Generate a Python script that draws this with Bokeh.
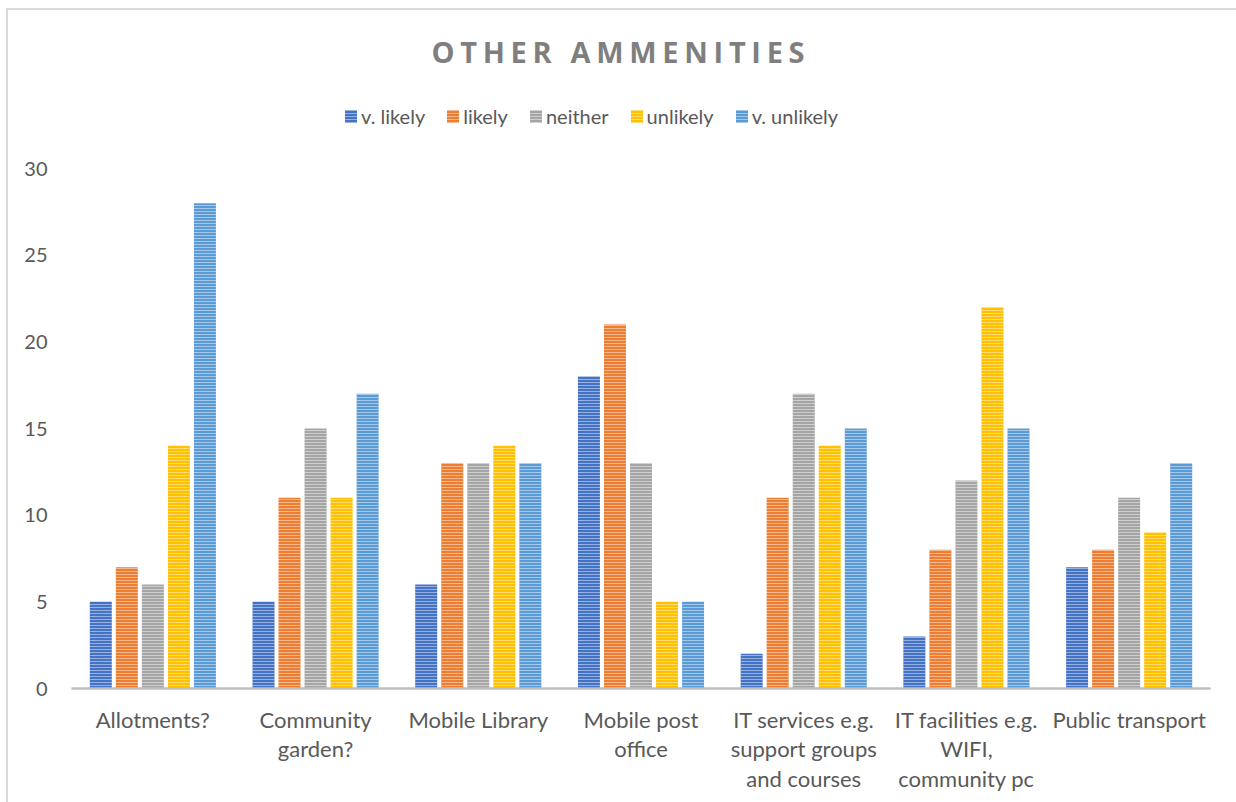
from bokeh.plotting import figure
from bokeh.layouts import column
from bokeh.models import (ColumnDataSource, FactorRange, Range1d, FixedTicker,
                          Legend, LegendItem)
from bokeh.transform import dodge
from bokeh.core.properties import value
from bokeh.embed import file_html
from bokeh.resources import INLINE

categories = ["Allotments?", "Community\ngarden?", "Mobile Library",
              "Mobile post\noffice", "IT services e.g.\nsupport groups\nand courses",
              "IT facilities e.g.\nWIFI,\ncommunity pc", "Public transport"]
series_names = ["v. likely", "likely", "neither", "unlikely", "v. unlikely"]
v_likely = [5, 5, 6, 18, 2, 3, 7]
likely = [7, 11, 13, 21, 11, 8, 8]
neither = [6, 15, 13, 13, 17, 12, 11]
unlikely = [14, 11, 14, 5, 14, 22, 9]
v_unlikely = [28, 17, 13, 5, 15, 15, 13]
y_ticks = [0, 5, 10, 15, 20, 25, 30]
title_text = "OTHER AMMENITIES"

colors = ["#4472C4", "#ED7D31", "#A5A5A5", "#FFC000", "#5B9BD5"]
series_values = [v_likely, likely, neither, unlikely, v_unlikely]
keys = ["s0", "s1", "s2", "s3", "s4"]

data = {"cat": categories}
for k, vals in zip(keys, series_values):
    data[k] = vals
source = ColumnDataSource(data)

FONT = "Lato"
TXT = "#595959"
W = 1228

# ---- title strip (separate figure so that letter-spacing can be applied) ----
TH = 70
tfig = figure(width=W, height=TH, x_range=Range1d(0, W), y_range=Range1d(0, TH),
              output_backend="svg", toolbar_location=None,
              min_border_left=0, min_border_right=0, min_border_top=0,
              min_border_bottom=0)
tfig.axis.visible = False
tfig.grid.visible = False
tfig.outline_line_color = None
tfig.styles = {"letter-spacing": "5.7px"}
tfig.text(x=[388], y=[TH - 41], text=[title_text], text_font=value("Open Sans"),
          text_font_size="29px", text_font_style="bold", text_color="#7F7F7F",
          text_align="left", text_baseline="middle")

# ---- main chart ----
PH = 802 - 10 - TH - 2
p = figure(width=W, height=PH, x_range=FactorRange(*categories, range_padding=0),
           y_range=Range1d(0, 34.5), output_backend="svg", toolbar_location=None,
           min_border_left=63, min_border_right=W - 1202, min_border_top=10,
           min_border_bottom=112)
p.outline_line_color = None
p.xgrid.visible = False
p.ygrid.visible = False

offsets = [-0.32, -0.16, 0.0, 0.16, 0.32]
items = []
for k, name, c, off in zip(keys, series_names, colors, offsets):
    r = p.vbar(x=dodge("cat", off, range=p.x_range), top=k, width=0.135,
               source=source, fill_color=c, line_color=None,
               hatch_pattern="horizontal_line", hatch_color="white",
               hatch_alpha=0.45, hatch_scale=3, hatch_weight=1)
    items.append(LegendItem(label=name, renderers=[r]))

legend = Legend(items=items, location=(272, 560), orientation="horizontal",
                border_line_color=None, background_fill_alpha=0, padding=0,
                margin=0, spacing=20, label_standoff=3, glyph_width=15,
                glyph_height=16, label_text_font=FONT,
                label_text_font_size="20px", label_text_color=TXT,
                label_height=20)
p.add_layout(legend)

p.yaxis.ticker = FixedTicker(ticks=y_ticks)
p.yaxis.axis_line_color = None
p.yaxis.major_tick_line_color = None
p.yaxis.minor_tick_line_color = None
p.yaxis.major_label_standoff = 18
p.yaxis.major_label_text_font = FONT
p.yaxis.major_label_text_font_size = "20px"
p.yaxis.major_label_text_color = TXT

p.xaxis.axis_line_color = "#BFBFBF"
p.xaxis.axis_line_width = 2.5
p.xaxis.major_tick_line_color = None
p.xaxis.minor_tick_line_color = None
p.xaxis.major_label_standoff = 11
p.xaxis.major_label_text_font = FONT
p.xaxis.major_label_text_font_size = "22px"
p.xaxis.major_label_text_color = TXT
p.xaxis.major_label_text_line_height = 1.1

layout = column(tfig, p, spacing=0)
layout.margin = (10, 0, 0, 8)

html = file_html(layout, INLINE)
css = ("<style>html,body{margin:0;overflow:hidden;}"
       "body::after{content:'';position:fixed;left:6px;top:8px;width:1400px;"
       "height:1000px;border-top:2px solid #D9D9D9;border-left:2px solid #D9D9D9;"
       "pointer-events:none;}</style>")
html = html.replace("</head>", css + "</head>", 1)
open("out.html", "w").write(html)
